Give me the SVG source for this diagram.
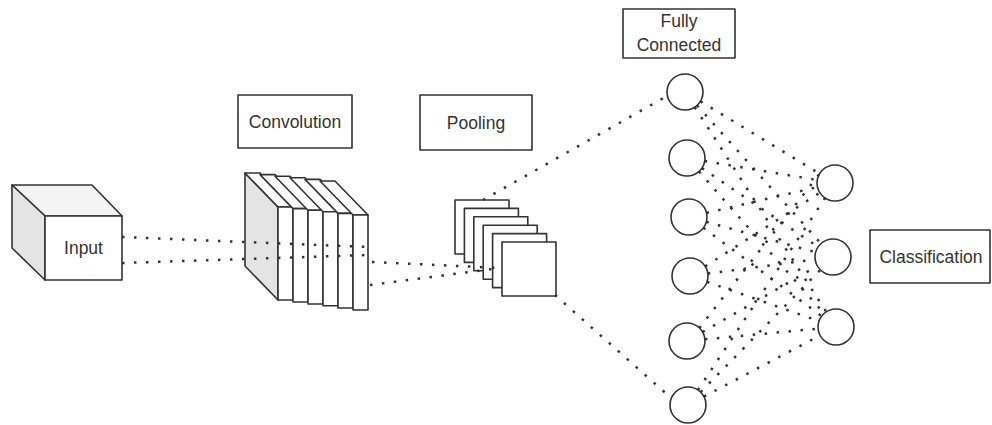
<svg xmlns="http://www.w3.org/2000/svg" width="992" height="425" viewBox="0 0 992 425">
<style>
.s{stroke:#333;stroke-width:1.6;fill:#fff;stroke-linejoin:round}
.g{fill:#e4e4e4}
.lt{fill:#f4f4f4}
.t{font-family:"Liberation Sans",Arial,sans-serif;font-size:17.5px;fill:#333;text-anchor:middle}
.c{fill:none;stroke:#333;stroke-width:2.5;stroke-dasharray:2.5 9.5}
</style>
<rect width="992" height="425" fill="#fff"/>
<g id="input">
<polygon class="s lt" points="12,185 92,185 122,216 45,216"/>
<polygon class="s g" points="12,185 45,216 45,280 12,248"/>
<rect class="s" x="45" y="216" width="77" height="64"/>
<text class="t" x="83.5" y="254">Input</text>
</g>
<g id="convolution-label">
<rect class="s" x="238" y="95" width="114" height="53"/>
<text class="t" x="295" y="128">Convolution</text>
</g>
<g id="convolution">
<polygon class="s g" points="245,173 278,207 278,300 245,266"/>
<polygon class="s" points="245,173 260,173 293,207 278,207"/>
<rect class="s" x="278" y="207" width="15" height="93"/>
<polygon class="s" points="260,174.6 275,174.6 308,208.6 293,208.6"/>
<rect class="s" x="293" y="208.6" width="15" height="93.4"/>
<polygon class="s" points="275,176.2 290,176.2 323,210.2 308,210.2"/>
<rect class="s" x="308" y="210.2" width="15" height="93.8"/>
<polygon class="s" points="290,177.8 305,177.8 338,211.8 323,211.8"/>
<rect class="s" x="323" y="211.8" width="15" height="94"/>
<polygon class="s" points="305,179.4 320,179.4 353,213.4 338,213.4"/>
<rect class="s" x="338" y="213.4" width="15" height="94.6"/>
<polygon class="s" points="320,181 335,181 368,215 353,215"/>
<rect class="s" x="353" y="215" width="15" height="95"/>
</g>
<g id="pooling-label">
<rect class="s" x="420" y="95" width="112" height="55"/>
<text class="t" x="476" y="129">Pooling</text>
</g>
<g id="pooling">
<rect class="s" x="455" y="200" width="54" height="54"/>
<rect class="s" x="464.4" y="208.4" width="54" height="54"/>
<rect class="s" x="473.8" y="216.8" width="54" height="54"/>
<rect class="s" x="483.2" y="225.2" width="54" height="54"/>
<rect class="s" x="492.6" y="233.6" width="54" height="54"/>
<rect class="s" x="502" y="242" width="54" height="54"/>
</g>
<g id="fully-connected-label">
<rect class="s" x="623" y="9" width="112" height="49"/>
<text class="t" x="679" y="27">Fully</text>
<text class="t" x="679" y="51">Connected</text>
</g>
<g id="fc1"><circle class="s" cx="685" cy="92" r="18"/></g>
<g id="fc2"><circle class="s" cx="687" cy="158" r="18"/></g>
<g id="fc3"><circle class="s" cx="689" cy="217" r="18"/></g>
<g id="fc4"><circle class="s" cx="690" cy="276" r="18"/></g>
<g id="fc5"><circle class="s" cx="687" cy="341" r="18"/></g>
<g id="fc6"><circle class="s" cx="688" cy="405" r="18"/></g>
<g id="out1"><circle class="s" cx="835" cy="183" r="18"/></g>
<g id="out2"><circle class="s" cx="833" cy="257" r="18"/></g>
<g id="out3"><circle class="s" cx="836" cy="327" r="18"/></g>
<g id="classification">
<rect class="s" x="870" y="230" width="120" height="53"/>
<text class="t" x="931" y="263">Classification</text>
</g>
<g id="connectors">
<path class="c" d="M122,237 L368,247"/>
<path class="c" d="M122,263 L368,255"/>
<path class="c" d="M372,262 L500,268"/>
<path class="c" d="M370,285 L500,268"/>
<path class="c" d="M483,200 L667,96"/>
<path class="c" d="M555,295 L670,397"/>
<path class="c" d="M700.4,101.3 L819.6,173.7"/>
<path class="c" d="M697,105.4 L821,243.6"/>
<path class="c" d="M694.7,107.1 L826.3,311.9"/>
<path class="c" d="M704.7,161 L817.3,180"/>
<path class="c" d="M701.9,168.1 L818.1,246.9"/>
<path class="c" d="M698.9,171.5 L824.1,313.5"/>
<path class="c" d="M706.5,212.9 L817.5,187.1"/>
<path class="c" d="M706.3,221.8 L815.7,252.2"/>
<path class="c" d="M703.4,227.8 L821.6,316.2"/>
<path class="c" d="M705.2,266.3 L819.8,192.7"/>
<path class="c" d="M707.8,273.6 L815.2,259.4"/>
<path class="c" d="M707,281.9 L819,321.1"/>
<path class="c" d="M699.3,327.9 L822.7,169.9"/>
<path class="c" d="M702.6,332 L817.4,266"/>
<path class="c" d="M704.9,339.3 L818.1,328.7"/>
<path class="c" d="M697.9,390 L825.1,198"/>
<path class="c" d="M700.6,392.1 L820.4,269.9"/>
<path class="c" d="M703.9,396.6 L820.1,335.4"/>
</g>
</svg>
